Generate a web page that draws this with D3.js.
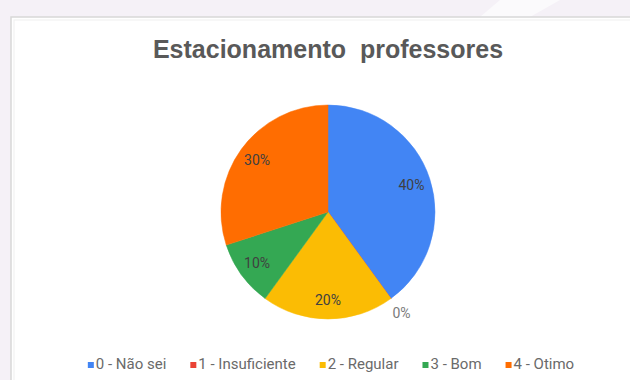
<!DOCTYPE html>
<html>
<head>
<meta charset="utf-8">
<script src="https://cdn.jsdelivr.net/npm/d3@7"></script>
<style>
  body { margin: 0; background: #f5f1f7; }
  svg { display: block; }
</style>
</head>
<body>
<div id="chart"></div>
<script>
// chart data
const categories = ["0 - Não sei", "1 - Insuficiente", "2 - Regular", "3 - Bom", "4 - Otimo"];
const values = [40, 0, 20, 10, 30];
const colors = ["#4285f4", "#ea4335", "#fbbc04", "#34a853", "#ff6d01"];
const title = "Estacionamento  professores";

const width = 630, height = 380;

const svg = d3.select("#chart")
  .append("svg")
  .attr("width", width)
  .attr("height", height);

// page background with a faint diagonal band at the top
svg.append("rect")
  .attr("width", width).attr("height", height)
  .attr("fill", "#f5f1f7");
svg.append("path")
  .attr("d", "M500,0 L560,0 L530,17 L480,17 Z")
  .attr("fill", "#fbfafc");

// white card
svg.append("rect")
  .attr("x", 11).attr("y", 17)
  .attr("width", 640).attr("height", 380)
  .attr("fill", "#ffffff")
  .attr("stroke", "#d8d8d8")
  .attr("stroke-width", 1.5);
svg.append("rect")
  .attr("x", 14).attr("y", 20)
  .attr("width", 640).attr("height", 380)
  .attr("fill", "none")
  .attr("stroke", "#efefef")
  .attr("stroke-width", 1);

// title (keeps the double space)
svg.append("text")
  .attr("x", 328)
  .attr("y", 58)
  .attr("text-anchor", "middle")
  .style("white-space", "pre")
  .style("font-family", "'Liberation Sans', Arial, sans-serif")
  .style("font-weight", "bold")
  .style("font-size", "25px")
  .style("fill", "#595959")
  .text(title);

// pie
const cx = 328, cy = 212, radius = 107;

const pie = d3.pie()
  .sort(null)
  .value(d => d.value);

const data = categories.map((c, i) => ({ name: c, value: values[i], color: colors[i] }));
const arcs = pie(data);

const arc = d3.arc().innerRadius(0).outerRadius(radius);
const labelArc = d3.arc().innerRadius(radius * 0.82).outerRadius(radius * 0.82);
const outerArc = d3.arc().innerRadius(radius + 18).outerRadius(radius + 18);

const g = svg.append("g")
  .attr("transform", `translate(${cx},${cy})`);

g.selectAll("path")
  .data(arcs)
  .join("path")
  .attr("d", arc)
  .attr("fill", d => d.data.color)
  .attr("stroke", d => d.data.color)
  .attr("stroke-width", 0.5);

const total = d3.sum(values);

g.selectAll("text.label")
  .data(arcs)
  .join("text")
  .attr("class", "label")
  .attr("transform", d => `translate(${(d.data.value === 0 ? outerArc : labelArc).centroid(d)})`)
  .attr("text-anchor", "middle")
  .attr("dy", "0.35em")
  .style("font-family", "Roboto, Arial, sans-serif")
  .style("font-size", "14px")
  .style("fill", d => d.data.value === 0 ? "#7a7a7a" : "#404040")
  .text(d => Math.round(d.data.value / total * 100) + "%");

// legend
const legend = svg.append("g").attr("class", "legend");
const legendY = 369;
const items = legend.selectAll("g")
  .data(data)
  .join("g");

items.append("rect")
  .attr("width", 6).attr("height", 6)
  .attr("y", legendY - 7)
  .attr("fill", d => d.color);

items.append("text")
  .attr("x", 8)
  .attr("y", legendY)
  .style("font-family", "Roboto, Arial, sans-serif")
  .style("font-size", "15px")
  .style("fill", "#6a6a6a")
  .text(d => d.name);

// lay out legend items in one centred row
let x = 0;
const gap = 24;
items.each(function() {
  const w = this.getBBox().width;
  d3.select(this).attr("transform", `translate(${x},0)`);
  x += w + gap;
});
const legendWidth = x - gap;
legend.attr("transform", `translate(${331 - legendWidth / 2},0)`);
</script>
</body>
</html>
